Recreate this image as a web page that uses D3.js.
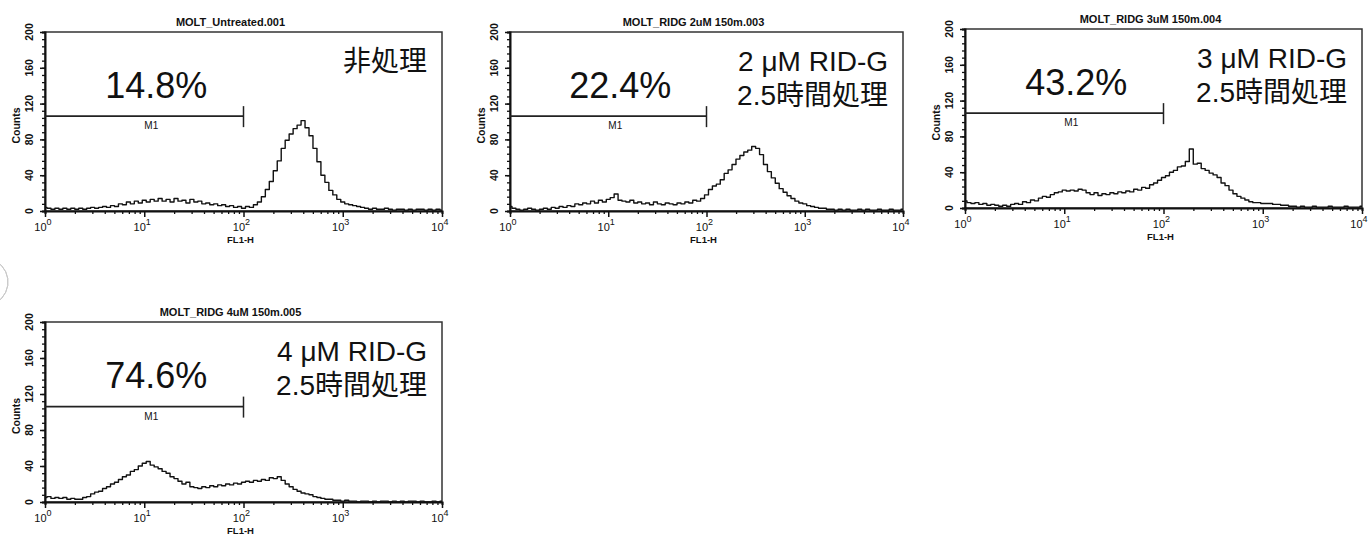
<!DOCTYPE html>
<html>
<head>
<meta charset="utf-8">
<script src="https://cdn.jsdelivr.net/npm/d3@7"></script>
<style>
  html, body { margin: 0; padding: 0; background: #fff; }
  svg { display: block; }
  text { font-family: "Liberation Sans", Arial, sans-serif; fill: #111; }
  .cjk { font-family: "Liberation Sans", Arial, "Noto Sans CJK JP", sans-serif; }
</style>
</head>
<body>
<svg id="chart" width="1370" height="536"></svg>
<script>
// ---------------- DATA ----------------
const panelTitles = ["MOLT_Untreated.001", "MOLT_RIDG 2uM 150m.003", "MOLT_RIDG 3uM 150m.004", "MOLT_RIDG 4uM 150m.005"];
const percentLabels = ["14.8%", "22.4%", "43.2%", "74.6%"];
const treatLine1 = ["非処理", "2 μM RID-G", "3 μM RID-G", "4 μM RID-G"];
const treatLine2 = ["", "2.5時間処理", "2.5時間処理", "2.5時間処理"];
const yTicks = [0, 40, 80, 120, 160, 200];
const xDecades = [1, 10, 100, 1000, 10000];
const xExponents = ["0", "1", "2", "3", "4"];
const gateRange = [1, 100];   // M1 marker FL1-H range
const gateLevel = 106;        // M1 marker drawn at this count level
const channelStepLog = 0.04;  // histogram channels, evenly spaced in log10(FL1-H)

const countsUntreated = [
  4,3,2,3,2,3,2,3,2,3,
  2,3,4,3,4,5,4,6,5,8,
  7,10,8,11,9,12,10,13,11,14,
  11,13,10,14,11,12,9,13,10,11,
  8,9,7,8,6,7,5,6,4,5,
  3,5,4,7,10,16,24,33,45,56,
  70,79,86,92,96,101,93,84,70,55,
  40,32,23,18,13,10,8,7,6,5,
  4,3,2,3,2,2,3,2,1,2,
  2,1,2,1,2,2,1,2,1,2,
  1];
const counts2uM = [
  5,3,2,1,2,3,2,1,2,3,
  2,4,3,5,4,6,5,8,7,9,
  8,11,9,12,10,13,15,19,12,11,
  10,12,9,10,8,9,7,10,8,7,
  9,8,7,9,8,10,9,12,11,14,
  18,24,28,30,35,42,46,52,58,62,
  66,68,72,70,63,52,44,37,31,25,
  21,17,14,11,9,8,6,5,4,3,
  3,2,2,1,2,1,2,1,1,2,
  1,2,1,1,2,1,1,2,1,1,
  2];
const counts3uM = [
  8,6,5,6,4,5,3,4,3,2,
  3,2,4,5,4,7,6,9,8,11,
  13,12,15,17,18,20,19,20,19,21,
  20,17,15,17,14,16,15,17,16,18,
  17,19,18,21,20,23,22,26,28,31,
  34,36,40,42,46,47,52,66,49,50,
  44,42,39,37,34,28,25,20,16,13,
  11,9,7,6,6,5,5,5,4,4,
  3,3,2,2,1,2,1,1,2,1,
  1,1,2,1,1,1,2,1,1,1,
  2];
const counts4uM = [
  5,6,4,5,4,5,3,4,3,3,
  5,6,9,11,12,15,17,20,22,25,
  28,30,34,36,40,43,45,41,39,37,
  34,32,28,26,23,20,22,17,16,15,
  17,16,18,17,19,18,20,19,21,20,
  22,23,22,24,23,25,24,27,26,28,
  24,20,17,14,12,10,9,8,6,5,
  4,3,3,2,2,1,2,1,1,0,
  1,1,0,1,0,1,1,0,1,0,
  1,0,1,1,0,1,0,0,1,0,
  1];
const seriesList = [countsUntreated, counts2uM, counts3uM, counts4uM];

// ---------------- LAYOUT ----------------
const panels = [
  {left: 45,  right: 442,  top: 32,  bottom: 211},
  {left: 510, right: 903,  top: 32,  bottom: 211},
  {left: 965, right: 1362, top: 29,  bottom: 208},
  {left: 45,  right: 442,  top: 322, bottom: 502}
];

const svg = d3.select("#chart");

// faint scan artefact arc at the left edge
svg.append("path")
  .attr("d", d3.arc()({innerRadius: 24, outerRadius: 24, startAngle: 0.25, endAngle: 2.6}))
  .attr("transform", "translate(-16,282)")
  .attr("fill", "none").attr("stroke", "#c8c8c8").attr("stroke-width", 1);

panels.forEach((p, k) => {
  const g = svg.append("g");
  const x = d3.scaleLog().domain([1, 10000]).range([p.left, p.right]);
  const y = d3.scaleLinear().domain([0, 200]).range([p.bottom, p.top]);
  const cx = (p.left + p.right) / 2;
  const cy = (p.top + p.bottom) / 2;

  // frame
  g.append("rect")
    .attr("x", p.left).attr("y", p.top)
    .attr("width", p.right - p.left).attr("height", p.bottom - p.top)
    .attr("fill", "none").attr("stroke", "#333").attr("stroke-width", 1.5);

  // y axis (outer ticks, with minor ticks)
  const yMinor = d3.range(0, 201, 8);
  g.append("g").attr("transform", `translate(${p.left},0)`)
    .call(d3.axisLeft(y).tickValues(yMinor).tickSize(3).tickFormat(""))
    .call(a => a.select(".domain").attr("stroke-width", 2).attr("stroke", "#111"))
    .call(a => a.selectAll(".tick line").attr("stroke-width", 1.3).attr("stroke", "#111"));
  g.append("g").attr("transform", `translate(${p.left},0)`)
    .call(d3.axisLeft(y).tickValues(yTicks).tickSize(5).tickFormat(""))
    .call(a => a.select(".domain").remove())
    .call(a => a.selectAll(".tick line").attr("stroke-width", 1.5).attr("stroke", "#111"));
  yTicks.forEach(v => {
    g.append("text")
      .attr("transform", `translate(${p.left - 12},${y(v)}) rotate(-90)`)
      .attr("text-anchor", "middle")
      .attr("font-size", 10.5).attr("font-weight", "bold")
      .text(v);
  });
  g.append("text")
    .attr("transform", `translate(${p.left - 25},${cy + 4}) rotate(-90)`)
    .attr("text-anchor", "middle")
    .attr("font-size", 10.5).attr("font-weight", "bold")
    .text("Counts");

  // x axis (log, outer ticks with minor ticks)
  const xMinor = [];
  xDecades.slice(0, -1).forEach(d => { for (let m = 2; m <= 9; m++) xMinor.push(d * m); });
  g.append("g").attr("transform", `translate(0,${p.bottom})`)
    .call(d3.axisBottom(x).tickValues(xMinor).tickSize(3).tickFormat(""))
    .call(a => a.select(".domain").attr("stroke-width", 2).attr("stroke", "#111"))
    .call(a => a.selectAll(".tick line").attr("stroke-width", 1.3).attr("stroke", "#111"));
  g.append("g").attr("transform", `translate(0,${p.bottom})`)
    .call(d3.axisBottom(x).tickValues(xDecades).tickSize(6).tickFormat(""))
    .call(a => a.select(".domain").remove())
    .call(a => a.selectAll(".tick line").attr("stroke-width", 1.5).attr("stroke", "#111"));
  xDecades.forEach((d, i) => {
    const cxl = Math.min(x(d) - 2, 1359);
    const t = g.append("text")
      .attr("x", cxl).attr("y", p.bottom + 20)
      .attr("text-anchor", "middle")
      .attr("font-size", 11);
    t.append("tspan").text("10");
    t.append("tspan").attr("dy", -6).attr("font-size", 9).text(xExponents[i]);
  });
  g.append("text")
    .attr("x", cx - 3).attr("y", p.bottom + 32)
    .attr("text-anchor", "middle")
    .attr("font-size", 9.5).attr("font-weight", "bold")
    .text("FL1-H");

  // title
  g.append("text")
    .attr("x", cx - 13).attr("y", p.top - 6)
    .attr("text-anchor", "middle")
    .attr("font-size", 11).attr("font-weight", "bold")
    .text(panelTitles[k]);

  // histogram trace
  const data = seriesList[k].map((c, i) => ({x: Math.pow(10, i * channelStepLog), c}));
  g.append("path")
    .datum(data)
    .attr("fill", "none")
    .attr("stroke", "#111")
    .attr("stroke-width", 1.4)
    .attr("stroke-linejoin", "round")
    .attr("d", d3.line().x(d => x(d.x)).y(d => y(d.c)).curve(d3.curveStep));

  // M1 marker
  const gy = y(gateLevel);
  g.append("line")
    .attr("x1", x(gateRange[0])).attr("x2", x(gateRange[1]))
    .attr("y1", gy).attr("y2", gy)
    .attr("stroke", "#222").attr("stroke-width", 1.8);
  g.append("line")
    .attr("x1", x(gateRange[1])).attr("x2", x(gateRange[1]))
    .attr("y1", gy - 10).attr("y2", gy + 11)
    .attr("stroke", "#222").attr("stroke-width", 1.5);
  g.append("text")
    .attr("x", (x(gateRange[0]) + x(gateRange[1])) / 2 + 7).attr("y", gy + 13)
    .attr("text-anchor", "middle")
    .attr("font-size", 10)
    .text("M1");

  // percentage
  g.append("text")
    .attr("x", (x(gateRange[0]) + x(gateRange[1])) / 2 + 12).attr("y", p.top + 66)
    .attr("text-anchor", "middle")
    .attr("font-size", 36).attr("fill", "#222")
    .text(percentLabels[k]);

  // treatment labels
  g.append("text").attr("class", "cjk")
    .attr("x", p.right - 15).attr("y", p.top + 39)
    .attr("text-anchor", "end")
    .attr("font-size", 28).attr("fill", "#111")
    .text(treatLine1[k]);
  if (treatLine2[k]) {
    g.append("text").attr("class", "cjk")
      .attr("x", p.right - 15).attr("y", p.top + 73)
      .attr("text-anchor", "end")
      .attr("font-size", 28).attr("fill", "#111")
      .text(treatLine2[k]);
  }
});
</script>
</body>
</html>
